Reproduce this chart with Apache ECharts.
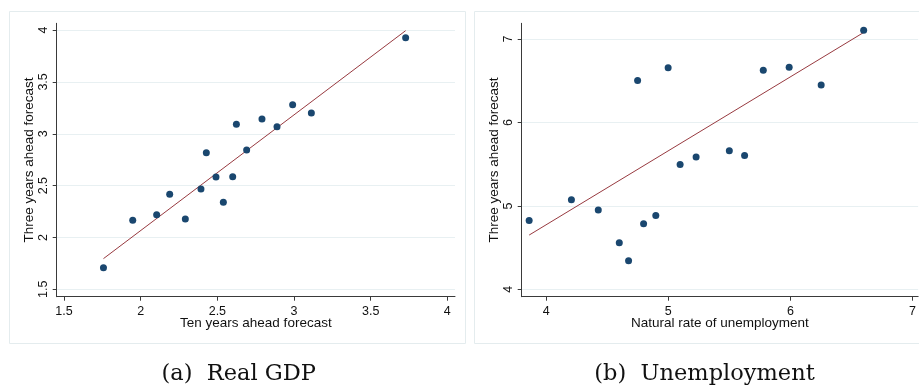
<!DOCTYPE html>
<html>
<head>
<meta charset="utf-8">
<script src="https://cdn.jsdelivr.net/npm/echarts@6/dist/echarts.min.js"></script>
<style>
html,body{margin:0;padding:0;background:#fff;}
#c{width:919px;height:389px;}
</style>
</head>
<body>
<div id="c"></div>
<script>
// Panel (a): Real GDP
const gdpX = [1.757, 1.948, 2.104, 2.189, 2.291, 2.393, 2.428, 2.491, 2.539, 2.600, 2.624, 2.691, 2.791, 2.889, 2.991, 3.113, 3.728];
const gdpY = [1.709, 2.165, 2.220, 2.416, 2.178, 2.467, 2.817, 2.583, 2.339, 2.586, 3.091, 2.843, 3.142, 3.068, 3.280, 3.200, 3.926];
const gdpFitX = [1.757, 3.728];
const gdpFitY = [1.796, 3.994];
const gdpXTicks = [1.5, 2, 2.5, 3, 3.5, 4];
const gdpYTicks = [1.5, 2, 2.5, 3, 3.5, 4];

// Panel (b): Unemployment
const unempX = [3.861, 4.207, 4.427, 4.599, 4.675, 4.749, 4.798, 4.898, 4.999, 5.097, 5.228, 5.500, 5.625, 5.778, 5.990, 6.252, 6.600];
const unempY = [4.827, 5.075, 4.951, 4.559, 4.344, 6.505, 4.787, 4.887, 6.656, 5.498, 5.586, 5.662, 5.606, 6.628, 6.664, 6.449, 7.108];
const unempFitX = [3.861, 6.600];
const unempFitY = [4.651, 7.080];
const unempXTicks = [4, 5, 6, 7];
const unempYTicks = [4, 5, 6, 7];

const zip = (a, b) => a.map((v, i) => [v, b[i]]);

const AXIS_COLOR = '#3a3a3a';
const GRID_COLOR = '#e8f0f2';
const DOT = '#1a476f';
const FIT = '#983a40';
const SANS = 'Liberation Sans, Arial, sans-serif';

function xAxisOpt(idx, min, max, ticks, name) {
  return {
    type: 'value', gridIndex: idx, min: min, max: max,
    name: name, nameLocation: 'middle', nameGap: 20, nameMoveOverlap: false,
    nameTextStyle: { fontFamily: SANS, fontSize: 13.5, color: '#111' },
    axisLine: { show: true, onZero: false, lineStyle: { color: AXIS_COLOR, width: 1 } },
    axisTick: { show: true, length: 4, customValues: ticks, lineStyle: { color: AXIS_COLOR } },
    axisLabel: { customValues: ticks, fontFamily: SANS, fontSize: 12.5, color: '#111', margin: 8,
      formatter: v => String(v) },
    splitLine: { show: false }
  };
}
function yAxisOpt(idx, min, max, ticks, name) {
  return {
    type: 'value', gridIndex: idx, min: min, max: max,
    name: name, nameLocation: 'middle', nameGap: 20, nameMoveOverlap: false,
    nameTextStyle: { fontFamily: SANS, fontSize: 13.5, color: '#111' },
    axisLine: { show: true, onZero: false, lineStyle: { color: AXIS_COLOR, width: 1 } },
    axisTick: { show: true, length: 4, customValues: ticks, lineStyle: { color: AXIS_COLOR } },
    axisLabel: { customValues: ticks, rotate: 90, fontFamily: SANS, fontSize: 12.5, color: '#111', margin: 7,
      formatter: v => String(v) },
    splitLine: { show: true, lineStyle: { color: GRID_COLOR, width: 1 } }
  };
}

const chart = echarts.init(document.getElementById('c'), null, { renderer: 'canvas' });
chart.setOption({
  animation: false,
  backgroundColor: '#ffffff',
  grid: [
    { left: 56.7, top: 23.3, right: 464, bottom: 92.3 },
    { left: 521.7, top: 23.3, right: 0, bottom: 92.3 }
  ],
  xAxis: [
    xAxisOpt(0, 1.452, 4.05, gdpXTicks, 'Ten years ahead forecast'),
    xAxisOpt(1, 3.80, 7.046, unempXTicks, 'Natural rate of unemployment')
  ],
  yAxis: [
    yAxisOpt(0, 1.429, 4.065, gdpYTicks, 'Three years ahead forecast'),
    yAxisOpt(1, 3.912, 7.19, unempYTicks, 'Three years ahead forecast')
  ],
  graphic: [
    { type: 'rect', silent: true, z: -10, shape: { x: 9.5, y: 11.5, width: 456, height: 332 },
      style: { fill: 'none', stroke: '#e4ecee', lineWidth: 1 } },
    { type: 'rect', silent: true, z: -10, shape: { x: 474.5, y: 11.5, width: 470, height: 332 },
      style: { fill: 'none', stroke: '#e4ecee', lineWidth: 1 } },
    { type: 'text', silent: true, x: 238.7, y: 374,
      style: { text: '(a)  Real GDP', fontFamily: 'DejaVu Serif', fontSize: 22.5, fill: '#111',
        textAlign: 'center', textVerticalAlign: 'middle' } },
    { type: 'text', silent: true, x: 704.5, y: 374,
      style: { text: '(b)  Unemployment', fontFamily: 'DejaVu Serif', fontSize: 22.5, fill: '#111',
        textAlign: 'center', textVerticalAlign: 'middle' } }
  ],
  series: [
    { type: 'line', xAxisIndex: 0, yAxisIndex: 0, data: zip(gdpFitX, gdpFitY), symbol: 'none',
      lineStyle: { color: FIT, width: 1 }, silent: true, z: 2 },
    { type: 'scatter', xAxisIndex: 0, yAxisIndex: 0, data: zip(gdpX, gdpY), symbolSize: 7,
      itemStyle: { color: DOT, opacity: 1 }, silent: true, z: 3 },
    { type: 'line', xAxisIndex: 1, yAxisIndex: 1, data: zip(unempFitX, unempFitY), symbol: 'none',
      lineStyle: { color: FIT, width: 1 }, silent: true, z: 2 },
    { type: 'scatter', xAxisIndex: 1, yAxisIndex: 1, data: zip(unempX, unempY), symbolSize: 7,
      itemStyle: { color: DOT, opacity: 1 }, silent: true, z: 3 }
  ]
});
</script>
</body>
</html>
